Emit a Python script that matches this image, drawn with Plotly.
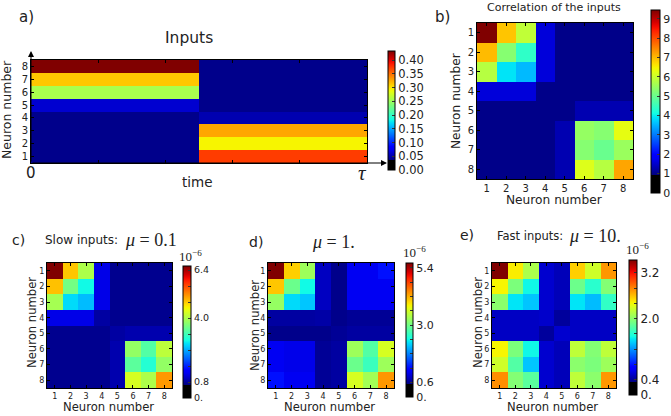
import numpy as np
import plotly.graph_objects as go

W, H = 671, 416

# ---------------- data ----------------
neurons = [1, 2, 3, 4, 5, 6, 7, 8]
time_edges = [0.0, 0.5, 1.0]
# input rate per neuron (1..8) in the first and second half of the period
inputs_first_half = [0.039, 0.039, 0.039, 0.039, 0.063, 0.256, 0.313, 0.433]
inputs_second_half = [0.372, 0.294, 0.327, 0.052, 0.039, 0.039, 0.039, 0.039]

corr_inputs = [
    [9.45, 6.9, 5.9, 1.6, 1.0, 1.0, 1.0, 1.0],
    [7.0, 5.3, 4.4, 1.6, 1.0, 1.0, 1.0, 1.0],
    [5.8, 3.9, 3.55, 1.6, 1.0, 1.0, 1.0, 1.0],
    [1.6, 1.6, 1.6, 1.0, 1.0, 1.0, 1.0, 1.0],
    [1.0, 1.0, 1.0, 1.0, 1.0, 1.3, 1.3, 1.3],
    [1.0, 1.0, 1.0, 1.0, 1.3, 5.45, 5.3, 6.3],
    [1.0, 1.0, 1.0, 1.0, 1.3, 5.3, 5.0, 5.5],
    [1.0, 1.0, 1.0, 1.0, 1.3, 6.2, 5.8, 7.2],
]
corr_slow = [
    [6.6, 4.82, 3.99, 1.2, 0.74, 0.74, 0.74, 0.74],
    [4.85, 3.57, 2.86, 1.2, 0.74, 0.74, 0.74, 0.74],
    [3.93, 2.68, 2.5, 1.2, 0.74, 0.74, 0.74, 0.74],
    [1.2, 1.2, 1.2, 0.84, 0.74, 0.74, 0.74, 0.74],
    [0.74, 0.74, 0.74, 0.74, 0.84, 0.9, 0.9, 0.9],
    [0.74, 0.74, 0.74, 0.74, 0.9, 3.8, 3.33, 4.1],
    [0.74, 0.74, 0.74, 0.74, 0.9, 3.4, 3.0, 3.8],
    [0.74, 0.74, 0.74, 0.74, 0.9, 4.28, 3.99, 5.1],
]
corr_medium = [
    [5.6, 4.03, 3.27, 0.82, 0.58, 1.04, 1.04, 1.24],
    [4.08, 2.96, 2.41, 0.82, 0.58, 1.04, 1.04, 1.04],
    [3.22, 2.25, 2.15, 0.82, 0.58, 1.04, 1.04, 1.04],
    [0.68, 0.68, 0.68, 0.7, 0.58, 0.63, 0.63, 0.63],
    [0.58, 0.58, 0.58, 0.58, 0.63, 0.68, 0.68, 0.68],
    [1.04, 1.0, 1.0, 0.63, 0.68, 3.27, 2.81, 3.62],
    [1.04, 1.0, 1.0, 0.63, 0.68, 2.96, 2.66, 3.27],
    [1.24, 1.04, 1.04, 0.63, 0.68, 3.62, 3.3, 4.33],
]
corr_fast = [
    [3.54, 2.45, 2.13, 0.56, 0.5, 2.55, 2.26, 2.74],
    [2.42, 1.94, 1.52, 0.56, 0.5, 1.88, 1.62, 1.97],
    [2.0, 1.46, 1.36, 0.56, 0.5, 1.46, 1.33, 1.65],
    [0.53, 0.53, 0.53, 0.55, 0.42, 0.53, 0.53, 0.53],
    [0.53, 0.53, 0.53, 0.42, 0.56, 0.53, 0.53, 0.53],
    [2.42, 1.94, 1.52, 0.56, 0.5, 2.2, 1.97, 2.2],
    [2.26, 1.78, 1.36, 0.56, 0.5, 2.0, 1.94, 2.07],
    [2.77, 1.97, 1.81, 0.56, 0.5, 2.2, 2.0, 2.74],
]

# ---------------- helpers ----------------
def jet(t):
    r = np.interp(t, [0, 0.35, 0.66, 0.89, 1], [0, 0, 1, 1, 0.5])
    g = np.interp(t, [0, 0.125, 0.375, 0.64, 0.91, 1], [0, 0, 1, 1, 0, 0])
    b = np.interp(t, [0, 0.11, 0.34, 0.65, 1], [0.5, 1, 1, 0, 0])
    return "rgb(%d,%d,%d)" % (round(r * 255), round(g * 255), round(b * 255))


def jet_with_black(f):
    scale = [[0.0, "rgb(0,0,0)"], [f, "rgb(0,0,0)"]]
    n = 40
    for i in range(n + 1):
        s = i / n
        pos = f + 1e-4 + s * (1 - f - 1e-4)
        scale.append([min(pos, 1.0), jet(s)])
    scale[-1][0] = 1.0
    return scale


def X(p):
    return p / W


def Y(p):
    return 1 - p / H


TXT = "#222222"
SANS = "DejaVu Sans"
SERIF = "Liberation Serif"


def cbar(x0, x1, y0, y1, tickvals, ticktext, fsize):
    return dict(
        x=X(x0), xanchor="left", y=Y(y0), yanchor="top",
        len=y1 - y0, lenmode="pixels",
        thickness=x1 - x0, thicknessmode="pixels",
        xpad=0, ypad=0, outlinewidth=1, outlinecolor="black",
        ticks="inside", ticklen=3, tickcolor="#333", tickwidth=1,
        tickvals=tickvals, ticktext=ticktext,
        tickfont=dict(size=fsize, color=TXT, family=SANS),
    )


fig = go.Figure()

# panel a
za = [[inputs_first_half[i], inputs_second_half[i]] for i in range(8)]
fig.add_trace(go.Heatmap(
    z=za, x=time_edges, y=neurons, zmin=0, zmax=0.433,
    colorscale=jet_with_black(0.035 / 0.433), xaxis="x", yaxis="y",
    colorbar=cbar(388, 395, 51, 170,
                  [0, 0.05, 0.1, 0.15, 0.2, 0.25, 0.3, 0.35, 0.4],
                  ["0.00", "0.05", "0.10", "0.15", "0.20", "0.25", "0.30", "0.35", "0.40"], 11.5),
))

# panel b
fig.add_trace(go.Heatmap(
    z=corr_inputs, x=neurons, y=neurons, zmin=0, zmax=9.45,
    colorscale=jet_with_black(0.93 / 9.45), xaxis="x2", yaxis="y2",
    colorbar=cbar(651, 660, 10, 193, list(range(10)), [str(i) for i in range(10)], 11),
))

# panels c, d, e
small = [
    (corr_slow, "x3", "y3", 6.6, 0.66, (183, 191, 266, 398),
     [0, 0.8, 1.6, 2.4, 3.2, 4.0, 4.8, 5.6, 6.4], ["0.", "0.8", "", "", "", "4.0", "", "", "6.4"], 9.5),
    (corr_medium, "x4", "y4", 5.6, 0.53, (406, 413, 263, 397),
     [0, 0.6, 1.2, 1.8, 2.4, 3.0, 3.6, 4.2, 4.8, 5.4], ["0.", "0.6", "", "", "", "3.0", "", "", "", "5.4"], 11),
    (corr_fast, "x5", "y5", 3.54, 0.34, (629, 637, 260, 395),
     [0, 0.4, 0.8, 1.2, 1.6, 2.0, 2.4, 2.8, 3.2], ["0.", "0.4", "", "", "", "2.0", "", "", "3.2"], 12),
]
for z, xa, ya, zmax, blk, (cx0, cx1, cy0, cy1), tv, tt, fs in small:
    fig.add_trace(go.Heatmap(
        z=z, x=neurons, y=neurons, zmin=0, zmax=zmax,
        colorscale=jet_with_black(blk / zmax), xaxis=xa, yaxis=ya,
        colorbar=cbar(cx0, cx1, cy0, cy1, tv, tt, fs),
    ))

# ---------------- axes ----------------
def ax_common(**kw):
    d = dict(showgrid=False, zeroline=False, showline=True, linecolor="black",
             linewidth=1, mirror="ticks", ticks="inside", ticklen=3,
             tickcolor="black", tickfont=dict(family=SANS, color=TXT, size=8))
    d.update(kw)
    return d


nums = [str(n) for n in neurons]
layout_axes = dict(
    xaxis=ax_common(domain=[X(31), X(367)], anchor="y", range=[0, 1],
                    tickvals=[0.2, 0.4, 0.6, 0.8], showticklabels=False),
    yaxis=ax_common(domain=[Y(163), Y(60)], anchor="x", range=[0.5, 8.5],
                    tickvals=neurons, ticktext=nums, tickfont=dict(family=SANS, color=TXT, size=10)),
    xaxis2=ax_common(domain=[X(477), X(633)], anchor="y2", range=[0.5, 8.5],
                     tickvals=neurons, ticktext=nums, tickfont=dict(family=SANS, color=TXT, size=10)),
    yaxis2=ax_common(domain=[Y(179), Y(23)], anchor="x2", range=[8.5, 0.5],
                     tickvals=neurons, ticktext=nums, tickfont=dict(family=SANS, color=TXT, size=10)),
)
for i, (x0, x1) in zip([3, 4, 5], [(47, 172), (268, 394), (492, 616)]):
    layout_axes["xaxis%d" % i] = ax_common(domain=[X(x0), X(x1)], anchor="y%d" % i,
                                           range=[0.5, 8.5], tickvals=neurons, ticktext=nums)
    layout_axes["yaxis%d" % i] = ax_common(domain=[Y(388), Y(263)], anchor="x%d" % i,
                                           range=[8.5, 0.5], tickvals=neurons, ticktext=nums)

# ---------------- text ----------------
ann = []


def text(x, y, s, size, family=SANS, angle=0, xanchor="center", yanchor="middle"):
    ann.append(dict(x=X(x), y=Y(y), xref="paper", yref="paper", text=s, showarrow=False,
                    textangle=angle, xanchor=xanchor, yanchor=yanchor,
                    font=dict(family=family, size=size, color=TXT)))


text(26, 17, "a)", 15)
text(189, 38, "Inputs", 15.5)
text(7, 110, "Neuron number", 12.5, angle=-90)
text(31, 173, "0", 15)
text(197, 182, "time", 13.5)
text(362, 173, "<i>τ</i>", 21, family=SERIF)

text(442, 17, "b)", 15)
text(554, 7, "Correlation of the inputs", 11)
text(456, 101, "Neuron number", 12.2, angle=-90)
text(554, 200, "Neuron number", 12.2)

text(18, 240, "c)", 14)
text(43, 240, "Slow inputs:", 12, xanchor="left")
text(123, 240, "<i>μ</i> = 0.1", 18, family=SERIF, xanchor="left")
text(32, 323, "Neuron number", 11.6, angle=-90)
text(108, 407, "Neuron number", 11.6)
text(191, 256, "10<sup>−6</sup>", 13, family=SERIF)

text(256, 242, "d)", 14)
text(310, 242, "<i>μ</i> = 1.", 18, family=SERIF, xanchor="left")
text(255, 325, "Neuron number", 11.6, angle=-90)
text(329, 407, "Neuron number", 11.6)
text(414, 252, "10<sup>−6</sup>", 13, family=SERIF)

text(467, 235, "e)", 14)
text(495, 236, "Fast inputs:", 11.5, xanchor="left")
text(567, 236, "<i>μ</i> = 10.", 18, family=SERIF, xanchor="left")
text(478, 323, "Neuron number", 11.6, angle=-90)
text(552, 407, "Neuron number", 11.6)
text(637, 249, "10<sup>−6</sup>", 13, family=SERIF)

# arrows of panel a
ann.append(dict(x=X(31), y=Y(51), xref="paper", yref="paper", ax=0, ay=112,
                axref="pixel", ayref="pixel", text="", showarrow=True,
                arrowhead=2, arrowsize=1.2, arrowwidth=1, arrowcolor="black"))
ann.append(dict(x=X(387), y=Y(163), xref="paper", yref="paper", ax=-356, ay=0,
                axref="pixel", ayref="pixel", text="", showarrow=True,
                arrowhead=2, arrowsize=1.2, arrowwidth=1, arrowcolor="black"))

fig.update_layout(
    width=W, height=H,
    margin=dict(l=0, r=0, t=0, b=0, autoexpand=False),
    paper_bgcolor="white", plot_bgcolor="white",
    showlegend=False, annotations=ann, **layout_axes,
)

fig.write_html("out.html")
